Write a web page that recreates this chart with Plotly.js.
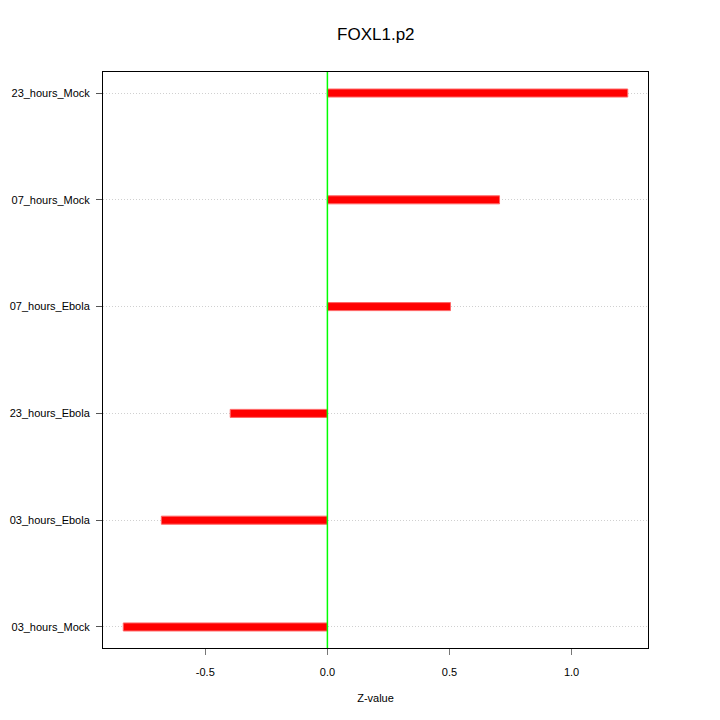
<!DOCTYPE html>
<html><head><meta charset="utf-8">
<script src="https://cdn.plot.ly/plotly-3.0.1.min.js"></script>
<style>html,body{margin:0;padding:0;background:#fff}</style>
</head><body>
<div id="chart" style="width:720px;height:720px"></div>
<script>
const categories = ["03_hours_Mock","03_hours_Ebola","23_hours_Ebola","07_hours_Ebola","07_hours_Mock","23_hours_Mock"];
const zValues = [-0.836, -0.68, -0.398, 0.504, 0.705, 1.23];
const xTicks = [-0.5, 0.0, 0.5, 1.0];
const xTickLabels = ["-0.5","0.0","0.5","1.0"];

const font = "Liberation Sans, Arial, Helvetica, sans-serif";
const positions = categories.map((c,i)=>i+1);
const trace = {
  type: 'bar', orientation: 'h',
  y: positions, x: zValues, base: 0,
  width: 0.075,
  marker: {color: '#ff0000', line: {width: 1, color: '#ff6666'}},
  hoverinfo: 'x'
};
const layout = {
  width: 720, height: 720,
  margin: {l: 103, r: 72, t: 72, b: 72},
  paper_bgcolor: '#fff', plot_bgcolor: '#fff',
  showlegend: false,
  title: {text: 'FOXL1.p2', font: {family: font, size: 17, color: '#000'}, x: 0.522, xanchor: 'center', y: 0.953, yanchor: 'middle'},
  xaxis: {
    range: [-0.919, 1.313], tickvals: xTicks, ticktext: xTickLabels,
    ticks: 'outside', ticklen: 6, tickcolor: '#777', showgrid: false,
    zeroline: false, ticklabelstandoff: 8,
    showline: true, linecolor: '#000', linewidth: 1, mirror: true,
    tickfont: {family: font, size: 11, color: '#000'},
    title: {text: 'Z-value', font: {family: font, size: 11, color: '#000'}, standoff: 17}
  },
  yaxis: {
    range: [0.803, 6.197], tickvals: positions, ticktext: categories,
    ticks: 'outside', ticklen: 6, tickcolor: '#555',
    showgrid: true, gridcolor: '#d0d0d0', griddash: '1px,2px', gridwidth: 1,
    zeroline: false, ticklabelstandoff: 4,
    showline: true, linecolor: '#000', linewidth: 1, mirror: true,
    tickfont: {family: font, size: 11, color: '#000'}
  },
  shapes: [{type: 'line', xref: 'x', yref: 'paper', x0: 0, x1: 0, y0: 0, y1: 1,
            line: {color: '#00ff00', width: 1.5}, layer: 'above'}]
};
Plotly.newPlot('chart', [trace], layout, {displayModeBar: false, staticPlot: true});
</script>
</body></html>
